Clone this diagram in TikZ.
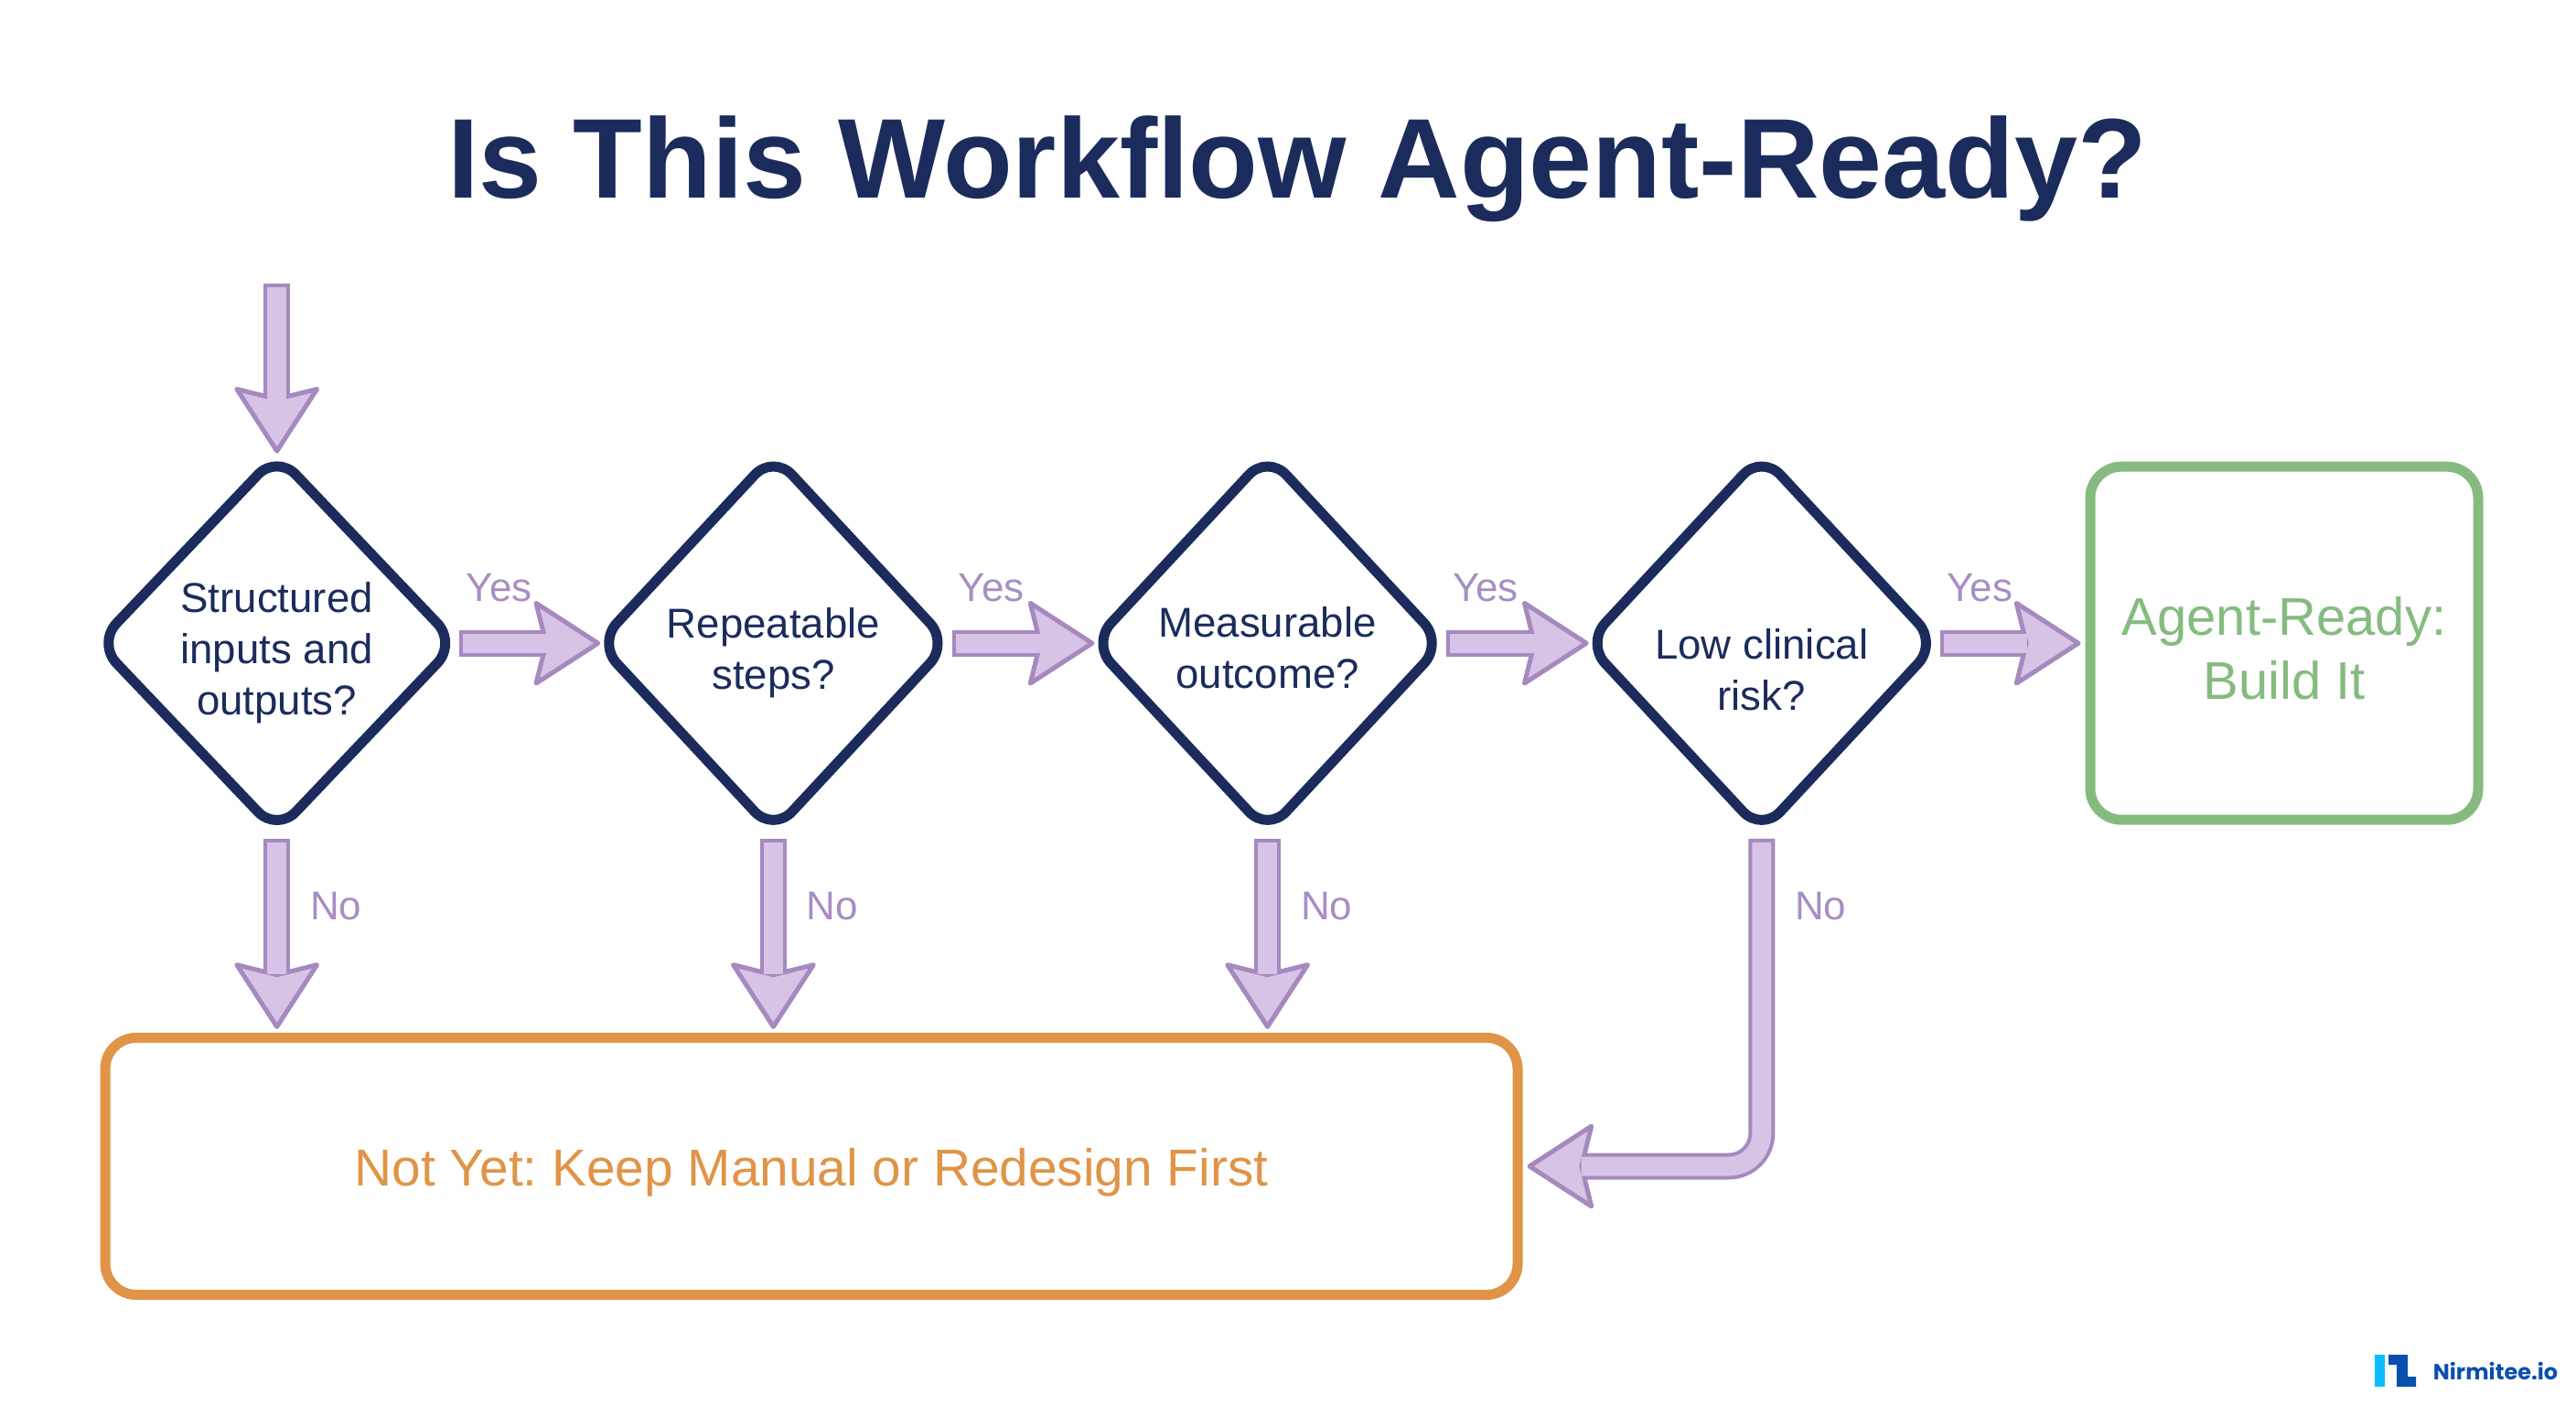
\documentclass[tikz,border=0pt]{standalone}
\usepackage{fontspec}
\setmainfont{Liberation Sans}
\newfontfamily\logofont{Poppins}
\usetikzlibrary{arrows.meta,positioning,shapes.geometric}
\frenchspacing
\definecolor{navy}{HTML}{1B2C5C}
\definecolor{flowedge}{HTML}{A589BF}
\definecolor{flowfill}{HTML}{D6C3E6}
\definecolor{flowtext}{HTML}{A98DC2}
\definecolor{readygreen}{HTML}{85BB7F}
\definecolor{waitorange}{HTML}{E09447}
\definecolor{logodark}{HTML}{0B4FAE}
\definecolor{logolight}{HTML}{06BCFF}
\tikzset{
    question/.style={diamond,draw=navy,line width=5.5pt,rounded corners=15pt,aspect=1,inner sep=0pt,
        outer sep=-3.7pt,minimum width=188.5pt,minimum height=203pt},
    asks/.style={inner sep=0pt,align=center,text=navy,font=\fontsize{22.8}{28}\selectfont},
    outcome/.style={rectangle,draw=#1,line width=5.5pt,rounded corners=17pt},
    says/.style={inner sep=0pt,align=center,text=#1,font=\fontsize{29}{35}\selectfont},
    flow/.style={draw=flowedge,line width=14.5pt,shorten <=#1,shorten >=4pt,
        -{Stealth[length=38pt,width=49pt,inset=6pt,round,line width=2.5pt,fill=flowfill,color=flowedge]},
        postaction={draw=flowfill,line width=10.5pt,arrows=-,shorten <=#1+2pt,shorten >=32pt}},
    flow/.default=7pt,
    flowlabel/.style={inner sep=0pt,text=flowtext,font=\fontsize{22}{24}\selectfont}
}

\begin{document}
\begin{tikzpicture}

    \useasboundingbox (0,0) rectangle (1408pt,-768pt);

    \node (title) at (709pt,-92.4pt) [text=navy,font=\fontsize{62}{72}\selectfont\bfseries] {Is This Workflow Agent-Ready?};

    % outcomes
    \node[outcome=readygreen,minimum width=212pt,minimum height=193pt,
        label={[says=readygreen,name=ready text,yshift=-2.7pt]center:{Agent-Ready:\\Build It}}] (ready) at (1248.5pt,-351.6pt) {};
    \node[outcome=waitorange,minimum width=772pt,minimum height=140.5pt,
        label={[says=waitorange,name=not yet text,yshift=-3.6pt,font=\fontsize{28.4}{34}\selectfont]center:{Not Yet: Keep Manual or Redesign First}}] (not yet) at (443.5pt,-637.5pt) {};

    % questions, last one first
    \node[question,label={[asks,name=q4 text,yshift=-14.4pt]center:{Low clinical\\risk?}}] (q4) [left=86.3pt of ready] {}
        edge[flow,shorten >=2.5pt] (ready);
    \node[question,label={[asks,name=q3 text,yshift=-2.7pt]center:{Measurable\\outcome?}}] (q3) [left=89pt of q4] {}
        edge[flow] (q4);
    \node[question,label={[asks,name=q2 text,yshift=-5.4pt]center:{Repeatable\\steps?}}] (q2) [left=89pt of q3] {}
        edge[flow] (q3);
    \node[question,minimum width=193pt,label={[asks,name=q1 text,yshift=-5.4pt]center:{Structured\\inputs and\\outputs?}}] (q1) [left=88pt of q2] {}
        edge[flow] (q2);

    \coordinate[above=99pt of q1.north] (start);
    \draw[flow=0pt,shorten >=6pt] (start) -- (q1);

    \draw[flow=9pt,shorten >=2pt] (q1) -- (q1 |- not yet.north);
    \draw[flow=9pt,shorten >=2pt] (q2) -- (q2 |- not yet.north);
    \draw[flow=9pt,shorten >=2pt] (q3) -- (q3 |- not yet.north);
    \draw[flow=9pt,shorten >=2.5pt,rounded corners=18pt] (q4) |- (not yet);

    % labels
    \foreach \q in {1,2,3,4} {
        \node[flowlabel] (yes \q) [above right=22.3pt and 10.5pt of q\q.east] {Yes};
        \node[flowlabel] (no \q)  [below right=38pt and 18pt of q\q.south]   {No};
    }

    % logo
    \fill[logolight] (1298pt,-740.5pt) rectangle (1303.5pt,-758pt);
    \fill[logodark] (1305.5pt,-740.5pt) -- (1316pt,-740.5pt) -- (1316pt,-752.5pt) -- (1320.5pt,-752.5pt)
        -- (1320.5pt,-758pt) -- (1310pt,-758pt) -- (1310pt,-746pt) -- (1305.5pt,-746pt) -- cycle;
    \node (logo) at (1364pt,-749.5pt) [inner sep=0pt,text=logodark,font=\fontsize{12}{14}\selectfont\logofont\bfseries] {Nirmitee.io};

\end{tikzpicture}
\end{document}
